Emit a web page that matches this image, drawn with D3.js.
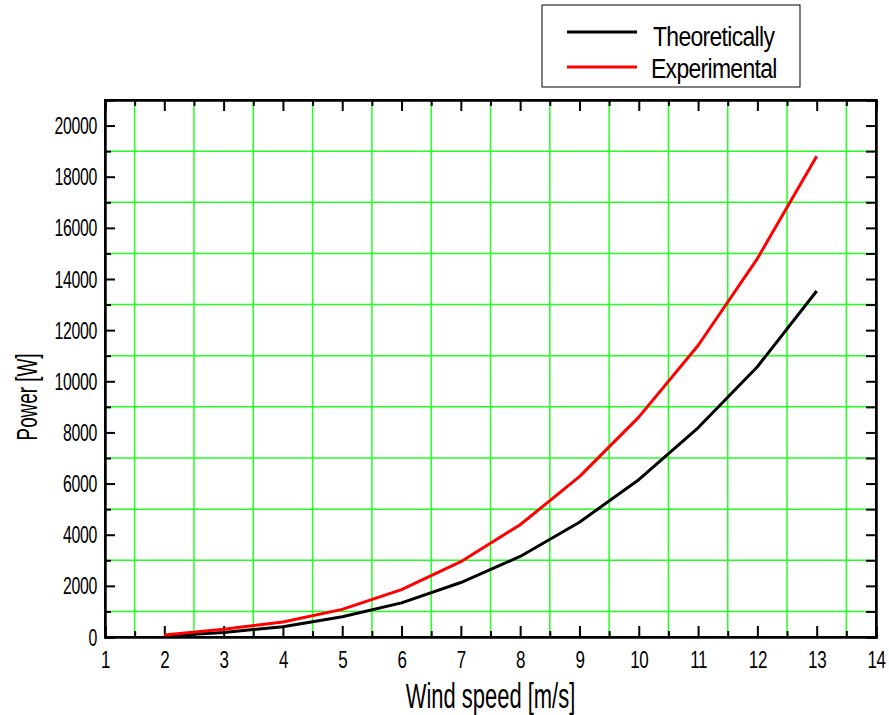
<html>
<head>
    <title>Power vs Wind speed</title>
    <style>
        body {
            margin: 0;
            padding: 0;
            background-color: #ffffff;
        }

        .chart text {
            font-family: Arial, "Liberation Sans", sans-serif;
            fill: #000;
        }

        .grid line {
            stroke: #22ff22;
            stroke-width: 1.5;
        }

        .axis path,
        .axis line {
            stroke: #000;
            stroke-width: 2;
        }
    </style>
</head>

<body>
    <div class="chart"></div>
    <script src="https://d3js.org/d3.v7.min.js"></script>
    <script>
        // values
        const windSpeed = [2, 3, 4, 5, 6, 7, 8, 9, 10, 11, 12, 13];
        const theoretical = [40, 180, 400, 790, 1335, 2130, 3150, 4490, 6150, 8180, 10570, 13530];
        const experimental = [80, 300, 590, 1080, 1850, 2945, 4390, 6270, 8600, 11400, 14800, 18800];

        const xMajor = [1, 2, 3, 4, 5, 6, 7, 8, 9, 10, 11, 12, 13, 14];
        const xMinor = [1.5, 2.5, 3.5, 4.5, 5.5, 6.5, 7.5, 8.5, 9.5, 10.5, 11.5, 12.5, 13.5];
        const yMajor = [0, 2000, 4000, 6000, 8000, 10000, 12000, 14000, 16000, 18000, 20000];
        const yMinor = [1000, 3000, 5000, 7000, 9000, 11000, 13000, 15000, 17000, 19000];

        const seriesNames = ['Theoretically', 'Experimental'];
        const seriesColors = ['#000000', '#ff0000'];

        const margin = { top: 100, right: 13, bottom: 78, left: 105 };
        const W = 889, H = 715;
        const width = W - margin.left - margin.right;
        const height = H - margin.top - margin.bottom;

        const svg = d3.select('.chart')
            .append('svg')
            .attr('width', W)
            .attr('height', H);

        const g = svg.append('g')
            .attr('transform', `translate(${margin.left},${margin.top})`);

        const x = d3.scaleLinear().domain([1, 14]).range([0, width]);
        const y = d3.scaleLinear().domain([0, 21000]).range([height, 0]);

        // grid on the minor positions
        const grid = g.append('g').attr('class', 'grid');
        grid.selectAll('.gx')
            .data(xMinor)
            .enter()
            .append('line')
            .attr('x1', d => x(d)).attr('x2', d => x(d))
            .attr('y1', 0).attr('y2', height);
        grid.selectAll('.gy')
            .data(yMinor)
            .enter()
            .append('line')
            .attr('x1', 0).attr('x2', width)
            .attr('y1', d => y(d)).attr('y2', d => y(d));

        // minor ticks (no labels)
        g.append('g').attr('class', 'axis')
            .attr('transform', `translate(0,${height})`)
            .call(d3.axisBottom(x).tickValues(xMinor).tickSize(-6).tickFormat(''));
        g.append('g').attr('class', 'axis')
            .call(d3.axisTop(x).tickValues(xMinor).tickSize(-6).tickFormat(''));
        g.append('g').attr('class', 'axis')
            .call(d3.axisLeft(y).tickValues(yMinor).tickSize(-6).tickFormat(''));
        g.append('g').attr('class', 'axis')
            .attr('transform', `translate(${width},0)`)
            .call(d3.axisRight(y).tickValues(yMinor).tickSize(-10).tickFormat(''));

        // major ticks
        const xAxis = g.append('g').attr('class', 'axis')
            .attr('transform', `translate(0,${height})`)
            .call(d3.axisBottom(x).tickValues(xMajor).tickSize(-11).tickFormat(d3.format('d')));
        xAxis.selectAll('text')
            .attr('y', 0).attr('dy', 0)
            .attr('transform', 'translate(0,31) scale(0.74,1)')
            .style('font-size', '23px')
            .style('letter-spacing', '-0.5px');

        g.append('g').attr('class', 'axis')
            .call(d3.axisTop(x).tickValues(xMajor).tickSize(-11).tickFormat(''));

        const yAxis = g.append('g').attr('class', 'axis')
            .call(d3.axisLeft(y).tickValues(yMajor).tickSize(-10).tickFormat(d3.format('d')));
        yAxis.selectAll('text')
            .attr('x', 0).attr('dy', '0.35em')
            .attr('transform', 'translate(-8,0) scale(0.69,1)')
            .style('font-size', '23px')
            .style('letter-spacing', '-0.5px');

        g.append('g').attr('class', 'axis')
            .attr('transform', `translate(${width},0)`)
            .call(d3.axisRight(y).tickValues(yMajor).tickSize(-10).tickFormat(''));

        // frame
        g.append('rect')
            .attr('x', 0).attr('y', 0)
            .attr('width', width).attr('height', height)
            .attr('fill', 'none')
            .attr('stroke', '#000')
            .attr('stroke-width', 2);

        // series
        const line = d3.line()
            .x(d => x(d[0]))
            .y(d => y(d[1]));

        [theoretical, experimental].forEach((vals, i) => {
            g.append('path')
                .datum(windSpeed.map((w, j) => [w, vals[j]]))
                .attr('fill', 'none')
                .attr('stroke', seriesColors[i])
                .attr('stroke-width', 3)
                .attr('stroke-linejoin', 'round')
                .attr('d', line);
        });

        // axis titles
        svg.append('text')
            .attr('transform', `translate(${margin.left + width / 2},708) scale(0.61,1)`)
            .attr('text-anchor', 'middle')
            .style('font-size', '36px')
            .text('Wind speed [m/s]');

        svg.append('text')
            .attr('transform', 'translate(37,397) rotate(-90) scale(0.65,1)')
            .attr('text-anchor', 'middle')
            .style('font-size', '29px')
            .text('Power [W]');

        // legend
        const legend = svg.append('g');
        legend.append('rect')
            .attr('x', 542).attr('y', 5)
            .attr('width', 258).attr('height', 82)
            .attr('fill', '#fff')
            .attr('stroke', '#000')
            .attr('stroke-width', 1);

        seriesNames.forEach((name, i) => {
            legend.append('line')
                .attr('x1', 567).attr('x2', 637)
                .attr('y1', 32 + i * 35).attr('y2', 32 + i * 35)
                .attr('stroke', seriesColors[i])
                .attr('stroke-width', 3);
            legend.append('text')
                .attr('transform', `translate(${i === 0 ? 653 : 651},${46 + i * 32}) scale(0.85,1)`)
                .style('font-size', '27px')
                .style('letter-spacing', '-0.8px')
                .text(name);
        });
    </script>
</body>

</html>
